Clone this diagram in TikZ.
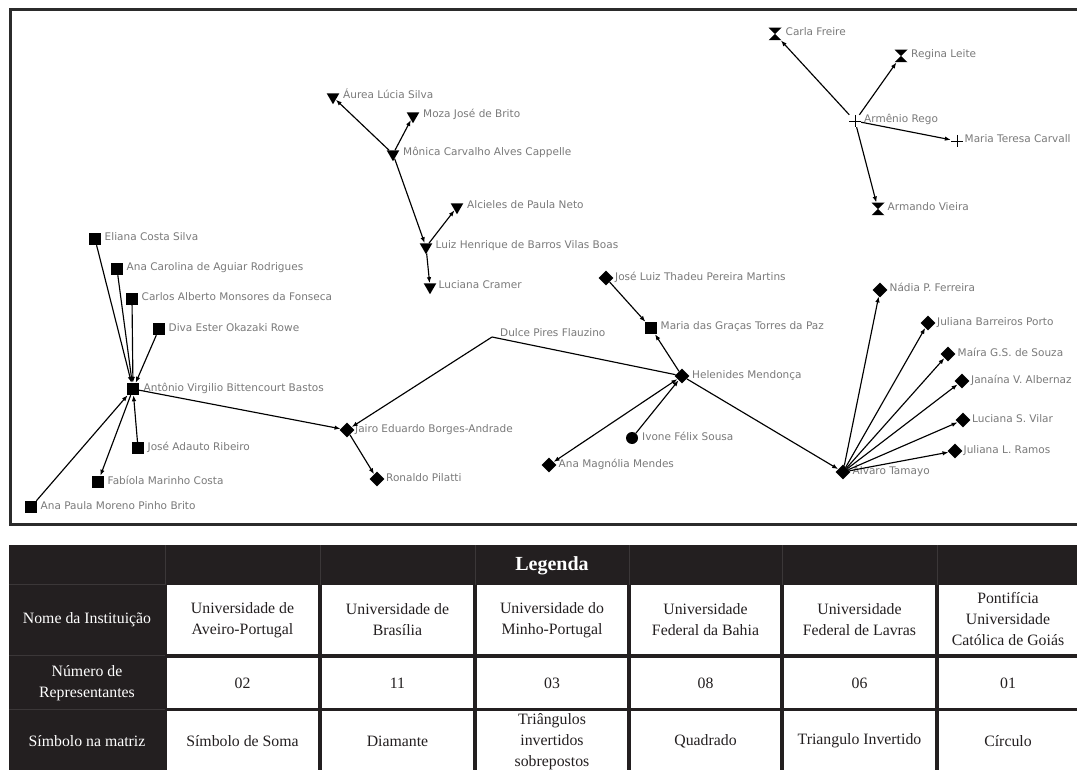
\documentclass[tikz,border=0pt]{standalone}
\usepackage{fontspec}
\setmainfont{Liberation Serif}
\newfontfamily\lblfont{DejaVu Sans}
\usetikzlibrary{shapes.geometric,arrows.meta}
\definecolor{tdark}{HTML}{231F20}
\definecolor{lblgray}{HTML}{7A7A7A}
\definecolor{framec}{HTML}{2B2B2B}
\definecolor{faint}{HTML}{3B3738}
\newcommand\gnode[5]{%
  \node[#1] (#2) at (#3) {};
  \node[lbl, anchor=base west] (#2-l) at ([xshift=#5pt, yshift=-2pt]#2.center) {#4};}
\begin{document}
\begin{tikzpicture}[x=1pt,y=-1pt,
  sq/.style={rectangle, fill=black, minimum size=12pt, inner sep=0pt},
  dia/.style={diamond, fill=black, minimum size=15pt, inner sep=0pt},
  tri/.style={regular polygon, regular polygon sides=3, shape border rotate=180, fill=black, minimum size=14.5pt, inner sep=0pt},
  hg/.style={rectangle, minimum width=13pt, minimum height=12.5pt, inner sep=0pt,
    path picture={\fill[black] (path picture bounding box.north west) -- (path picture bounding box.north east) -- (path picture bounding box.south west) -- (path picture bounding box.south east) -- cycle;}},
  plusnode/.style={rectangle, minimum size=12pt, inner sep=0pt,
    path picture={\draw[black, line width=0.8pt] (path picture bounding box.north) -- (path picture bounding box.south) (path picture bounding box.west) -- (path picture bounding box.east);}},
  circ/.style={circle, fill=black, minimum size=12pt, inner sep=0pt},
  hidden/.style={inner sep=0pt, minimum size=0pt},
  lbl/.style={font=\lblfont\fontsize{10.5}{12}\selectfont, text=lblgray, inner sep=0pt},
  conn/.style={draw, line width=1.15pt, -{Latex[length=6pt,width=4.5pt]}},
  conn2/.style={draw, line width=1.15pt, {Latex[length=6pt,width=4.5pt]}-{Latex[length=6pt,width=4.5pt]}},
  plain/.style={draw, line width=1.15pt},
  tcell/.style={font=\fontsize{15.8}{21}\selectfont, align=center, inner sep=0pt, text=tdark},
  rowlbl/.style={font=\fontsize{15.8}{21}\selectfont, align=center, inner sep=0pt, text=white},
  legtitle/.style={font=\bfseries\fontsize{20}{23}\selectfont, inner sep=0pt, text=white}
]
\useasboundingbox (0,0) rectangle (1077,770);
\clip (0,0) rectangle (1077,770);
\fill[white] (0,0) rectangle (1077,770);

% frame
\draw[framec, line width=3pt] (10,9.5) rectangle (1100,524.5);

% squares (Bahia)
\gnode{sq}{eliana}{95,239}{Eliana Costa Silva}{9.5}
\gnode{sq}{anacarolina}{117,269}{Ana Carolina de Aguiar Rodrigues}{9.5}
\gnode{sq}{carlos}{132,299}{Carlos Alberto Monsores da Fonseca}{9.5}
\gnode{sq}{diva}{159,329}{Diva Ester Okazaki Rowe}{9.5}
\gnode{sq}{antonio}{133,389}{Antônio Virgilio Bittencourt Bastos}{10.5}
\gnode{sq}{joseadauto}{138,448}{José Adauto Ribeiro}{9.5}
\gnode{sq}{fabiola}{98,482}{Fabíola Marinho Costa}{9.5}
\gnode{sq}{anapaula}{31,507}{Ana Paula Moreno Pinho Brito}{9.5}
\gnode{sq}{mariagracas}{651,328}{Maria das Graças Torres da Paz}{9.5}

% diamonds (Brasilia)
\gnode{dia}{jairo}{347,430}{Jairo Eduardo Borges-Andrade}{8}
\gnode{dia}{ronaldo}{377,479}{Ronaldo Pilatti}{9}
\gnode{dia}{joseluiz}{606,278}{José Luiz Thadeu Pereira Martins}{9}
\gnode{dia}{helenides}{682,376}{Helenides Mendonça}{10}
\gnode{dia}{anamagnolia}{549,465}{Ana Magnólia Mendes}{9.5}
\gnode{dia}{alvaro}{843,472}{Álvaro Tamayo}{9.5}
\gnode{dia}{nadia}{880,290}{Nádia P. Ferreira}{9.5}
\gnode{dia}{julianab}{928,323}{Juliana Barreiros Porto}{9}
\gnode{dia}{maira}{948,354}{Maíra G.S. de Souza}{9.5}
\gnode{dia}{janaina}{962,381}{Janaína V. Albernaz}{9}
\gnode{dia}{lucianav}{963,420}{Luciana S. Vilar}{9}
\gnode{dia}{julianal}{955,451}{Juliana L. Ramos}{8.5}

% inverted triangles (Lavras)
\gnode{tri}{aurea}{333,97}{Áurea Lúcia Silva}{10}
\gnode{tri}{moza}{413,116}{Moza José de Brito}{10}
\gnode{tri}{monica}{393,154}{Mônica Carvalho Alves Cappelle}{10}
\gnode{tri}{alcieles}{457,207}{Alcieles de Paula Neto}{10}
\gnode{tri}{luiz}{426,247}{Luiz Henrique de Barros Vilas Boas}{9.5}
\gnode{tri}{lucianac}{430,287}{Luciana Cramer}{8.5}

% hourglasses (Minho)
\gnode{hg}{carla}{775,34}{Carla Freire}{10.5}
\gnode{hg}{regina}{901,56}{Regina Leite}{10}
\gnode{hg}{armando}{878,209}{Armando Vieira}{9.5}

% plus (Aveiro)
\gnode{plusnode}{armenio}{855,121}{Armênio Rego}{9}
\gnode{plusnode}{mariateresa}{957,141}{Maria Teresa Carvall}{7.5}

% circle (PUC Goias)
\gnode{circ}{ivone}{632,438}{Ivone Félix Sousa}{10}

% no symbol
\node[hidden] (dulce) at (492,337) {};
\node[lbl, anchor=base west] (dulce-l) at (500,337) {Dulce Pires Flauzino};

% connectors
\draw[conn] (eliana) -- (antonio);
\draw[conn] (anacarolina) -- (antonio);
\draw[conn] (carlos) -- (antonio);
\draw[conn] (diva) -- (antonio);
\draw[conn] (joseadauto) -- (antonio);
\draw[conn] (anapaula) -- (antonio);
\draw[conn] (antonio) -- (fabiola);
\draw[conn] (antonio) -- (jairo);
\draw[conn] (jairo) -- (ronaldo);
\draw[plain] (helenides) -- (dulce.center);
\draw[conn] (dulce.center) -- (jairo);
\draw[conn] (joseluiz) -- (mariagracas);
\draw[conn] (helenides) -- (mariagracas);
\draw[conn2] (anamagnolia) -- (helenides);
\draw[conn] (ivone) -- (helenides);
\draw[conn] (helenides) -- (alvaro);
\draw[conn] (alvaro) -- (nadia);
\draw[conn] (alvaro) -- (julianab);
\draw[conn] (alvaro) -- (maira);
\draw[conn] (alvaro) -- (janaina);
\draw[conn] (alvaro) -- (lucianav);
\draw[conn] (alvaro) -- (julianal);
\draw[conn] (monica) -- (aurea);
\draw[conn] (monica) -- (moza);
\draw[conn] (monica) -- (luiz);
\draw[conn] (luiz) -- (alcieles);
\draw[conn] (luiz) -- (lucianac);
\draw[conn] (armenio) -- (carla);
\draw[conn] (armenio) -- (regina);
\draw[conn] (armenio) -- (mariateresa);
\draw[conn] (armenio) -- (armando);

% ---------- legend table ----------
\fill[tdark] (8.5,545) rectangle (1080,772);
\foreach \yy in {584.7,655.8,709.4} {\draw[faint, line width=0.8pt] (9,\yy) -- (165,\yy);}
\foreach \xx in {165,320,475,629,782,937} {\draw[faint, line width=0.8pt] (\xx,545) -- (\xx,584.7);}
\foreach \xa/\xb in {167/318,322/473,477/627,631/780,784/935,939/1080} {
  \foreach \ya/\yb in {584.7/654,657.7/707.7,711/772} {
    \fill[white] (\xa,\ya) rectangle (\xb,\yb);
  }
}
\node[legtitle] (legenda) at (552,566) {Legenda};

\node[rowlbl] (r1) at (87,620) {Nome da Instituição};
\node[rowlbl] (r2) at (87,683) {Número de\\Representantes};
\node[rowlbl] (r3) at (87,741) {Símbolo na matriz};

\node[tcell] (c11) at (242.5,620) {Universidade de\\Aveiro-Portugal};
\node[tcell] (c12) at (397.5,620) {Universidade de\\Brasília};
\node[tcell] (c13) at (552,620) {Universidade do\\Minho-Portugal};
\node[tcell] (c14) at (705.5,620) {Universidade\\Federal da Bahia};
\node[tcell] (c15) at (859.5,620) {Universidade\\Federal de Lavras};
\node[tcell] (c16) at (1008,619) {Pontifícia\\Universidade\\Católica de Goiás};

\node[tcell] (c21) at (242.5,683) {02};
\node[tcell] (c22) at (397.5,683) {11};
\node[tcell] (c23) at (552,683) {03};
\node[tcell] (c24) at (705.5,683) {08};
\node[tcell] (c25) at (859.5,683) {06};
\node[tcell] (c26) at (1008,683) {01};

\node[tcell] (c31) at (242.5,741) {Símbolo de Soma};
\node[tcell] (c32) at (397.5,741) {Diamante};
\node[tcell] (c33) at (552,742) {Triângulos\\invertidos\\sobrepostos};
\node[tcell] (c34) at (705.5,741) {Quadrado};
\node[tcell] (c35) at (859.5,741) {Triangulo Invertido};
\node[tcell] (c36) at (1008,741) {Círculo};
\end{tikzpicture}
\end{document}
